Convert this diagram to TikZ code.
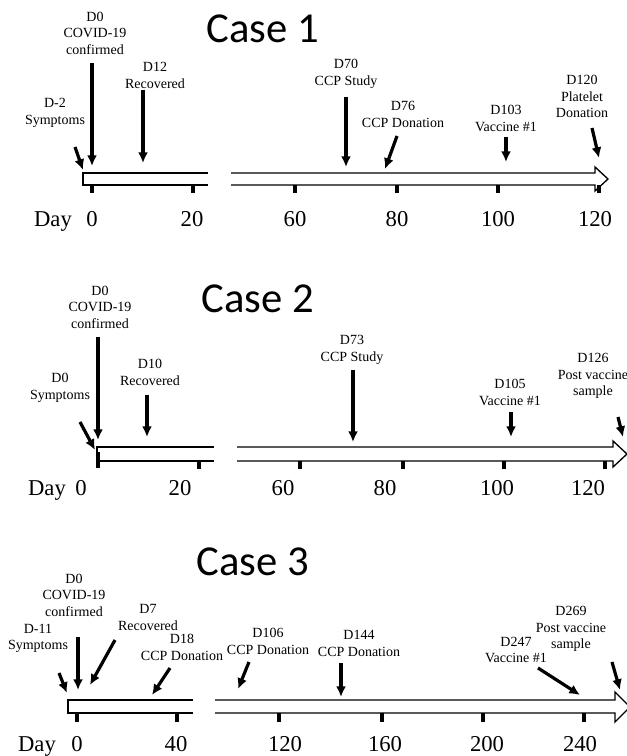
\documentclass[tikz,border=0pt]{standalone}
\usepackage{fontspec}
\setmainfont{Liberation Serif}
\newfontfamily\casefont{Carlito}
\usetikzlibrary{arrows.meta}
\tikzset{
  evtext/.style={font=\fontsize{10.5}{12.4}\selectfont, align=center, inner sep=0pt},
  daytext/.style={font=\fontsize{17}{20}\selectfont, anchor=base, inner sep=0pt},
  casetitle/.style={font=\casefont\fontsize{32}{36}\selectfont, inner sep=0pt},
  eventarrow/.style={line width=2.4pt, -{Latex[length=8pt,width=7.5pt]}},
  timeline/.style={line width=1pt},
  tickmark/.style={line width=2.6pt}
}

\begin{document}
\begin{tikzpicture}[x=0.75pt, y=-0.75pt]
  \useasboundingbox (0,0) rectangle (627,756);

  % Case 1
  \node[casetitle] (title1) at (263,29) {Case 1};
  \draw[timeline] (208,173) -- (83,173) -- (83,185) -- (208,185);
  \draw[timeline] (231,173) -- (595,173) -- (595,167) -- (608,179) -- (595,191) -- (595,185) -- (231,185);
  \draw[tickmark] (92,185) -- (92,193);
  \draw[tickmark] (193,185) -- (193,193);
  \draw[tickmark] (295,185) -- (295,193);
  \draw[tickmark] (397,185) -- (397,193);
  \draw[tickmark] (498,185) -- (498,193);
  \draw[tickmark] (599,185) -- (599,193);
  \node[daytext] (day1) at (53,226) {Day};
  \node[daytext] (day1a) at (92,226) {0};
  \node[daytext] (day1b) at (192,226) {20};
  \node[daytext] (day1c) at (295,226) {60};
  \node[daytext] (day1d) at (397,226) {80};
  \node[daytext] (day1e) at (498,226) {100};
  \node[daytext] (day1f) at (595,226) {120};

  \node[evtext] (sym1) at (55,113) {D-2\\Symptoms};
  \node[evtext] (conf1) at (95,33) {D0\\COVID-19\\confirmed};
  \node[evtext] (rec1) at (155,75.5) {D12\\Recovered};
  \node[evtext] (study1) at (346,74) {D70\\CCP Study};
  \node[evtext] (don1) at (403,114.5) {D76\\CCP Donation};
  \node[evtext] (vac1) at (506,118.5) {D103\\Vaccine \#1};
  \node[evtext] (plat1) at (582,96.5) {D120\\Platelet\\Donation};
  \coordinate (sym1-s) at (75,147);   \coordinate (sym1-e) at (83,170);
  \coordinate (conf1-s) at (92,63);   \coordinate (conf1-e) at (92,166);
  \coordinate (rec1-s) at (143,90);   \coordinate (rec1-e) at (143,163);
  \coordinate (study1-s) at (346,97); \coordinate (study1-e) at (346,167);
  \coordinate (don1-s) at (397,136);  \coordinate (don1-e) at (385,169);
  \coordinate (vac1-s) at (506,137);  \coordinate (vac1-e) at (506,162);
  \coordinate (plat1-s) at (592,128); \coordinate (plat1-e) at (599,158);
  \draw[eventarrow] (sym1-s) -- (sym1-e);
  \draw[eventarrow] (conf1-s) -- (conf1-e);
  \draw[eventarrow] (rec1-s) -- (rec1-e);
  \draw[eventarrow] (study1-s) -- (study1-e);
  \draw[eventarrow] (don1-s) -- (don1-e);
  \draw[eventarrow] (vac1-s) -- (vac1-e);
  \draw[eventarrow] (plat1-s) -- (plat1-e);

  % Case 2
  \node[casetitle] (title2) at (258,299) {Case 2};
  \draw[timeline] (214,447) -- (97,447) -- (97,461) -- (214,461);
  \draw[timeline] (237,447) -- (613,447) -- (613,441) -- (627,454) -- (613,467) -- (613,461) -- (237,461);
  \draw[tickmark] (98,452) -- (98,468);
  \draw[tickmark] (199,461) -- (199,469);
  \draw[tickmark] (300,461) -- (300,469);
  \draw[tickmark] (403,461) -- (403,469);
  \draw[tickmark] (504,461) -- (504,469);
  \draw[tickmark] (605,461) -- (605,469);
  \node[daytext] (day2) at (47,495) {Day};
  \node[daytext] (day2a) at (81,495) {0};
  \node[daytext] (day2b) at (180,495) {20};
  \node[daytext] (day2c) at (283,495) {60};
  \node[daytext] (day2d) at (385,495) {80};
  \node[daytext] (day2e) at (497,495) {100};
  \node[daytext] (day2f) at (588,495) {120};

  \node[evtext] (sym2) at (60,388) {D0\\Symptoms};
  \node[evtext] (conf2) at (100,307) {D0\\COVID-19\\confirmed};
  \node[evtext] (rec2) at (150,372.5) {D10\\Recovered};
  \node[evtext] (study2) at (352,350) {D73\\CCP Study};
  \node[evtext] (vac2) at (510,392.5) {D105\\Vaccine \#1};
  \node[evtext] (post2) at (593,376) {D126\\Post vaccine\\sample};
  \coordinate (sym2-s) at (80,422);   \coordinate (sym2-e) at (95,450);
  \coordinate (conf2-s) at (98,337);  \coordinate (conf2-e) at (98,440);
  \coordinate (rec2-s) at (147,395);  \coordinate (rec2-e) at (147,437);
  \coordinate (study2-s) at (353,370);\coordinate (study2-e) at (353,442);
  \coordinate (vac2-s) at (511,412);  \coordinate (vac2-e) at (511,437);
  \coordinate (post2-s) at (618,417); \coordinate (post2-e) at (623,437);
  \draw[eventarrow] (sym2-s) -- (sym2-e);
  \draw[eventarrow] (conf2-s) -- (conf2-e);
  \draw[eventarrow] (rec2-s) -- (rec2-e);
  \draw[eventarrow] (study2-s) -- (study2-e);
  \draw[eventarrow] (vac2-s) -- (vac2-e);
  \draw[eventarrow] (post2-s) -- (post2-e);

  % Case 3
  \node[casetitle] (title3) at (253,562) {Case 3};
  \draw[timeline] (193,700) -- (68,700) -- (68,713) -- (193,713);
  \draw[timeline] (215,700) -- (615,700) -- (615,692) -- (630,707) -- (615,722) -- (615,713) -- (215,713);
  \draw[tickmark] (77,713) -- (77,722);
  \draw[tickmark] (177,713) -- (177,722);
  \draw[tickmark] (279,713) -- (279,722);
  \draw[tickmark] (382,713) -- (382,722);
  \draw[tickmark] (483,713) -- (483,722);
  \draw[tickmark] (584,713) -- (584,722);
  \node[daytext] (day3) at (37,751) {Day};
  \node[daytext] (day3a) at (77,751) {0};
  \node[daytext] (day3b) at (176,751) {40};
  \node[daytext] (day3c) at (285,751) {120};
  \node[daytext] (day3d) at (385,751) {160};
  \node[daytext] (day3e) at (487,751) {200};
  \node[daytext] (day3f) at (580,751) {240};

  \node[evtext] (sym3) at (38,638.5) {D-11\\Symptoms};
  \node[evtext] (conf3) at (74,595) {D0\\COVID-19\\confirmed};
  \node[evtext] (rec3) at (148,617.5) {D7\\Recovered};
  \node[evtext] (don3a) at (182,647.5) {D18\\CCP Donation};
  \node[evtext] (don3b) at (268,641.5) {D106\\CCP Donation};
  \node[evtext] (don3c) at (359,643.5) {D144\\CCP Donation};
  \node[evtext] (vac3) at (516,650) {D247\\Vaccine \#1};
  \node[evtext] (post3) at (571,629) {D269\\Post vaccine\\sample};
  \coordinate (sym3-s) at (59,673);   \coordinate (sym3-e) at (67,693);
  \coordinate (conf3-s) at (78,637);  \coordinate (conf3-e) at (78,690);
  \coordinate (rec3-s) at (115,640);  \coordinate (rec3-e) at (90,685);
  \coordinate (don3a-s) at (170,668); \coordinate (don3a-e) at (152,695);
  \coordinate (don3b-s) at (249,662); \coordinate (don3b-e) at (238,689);
  \coordinate (don3c-s) at (341,663); \coordinate (don3c-e) at (341,697);
  \coordinate (vac3-s) at (538,668);  \coordinate (vac3-e) at (580,695);
  \coordinate (post3-s) at (612,662); \coordinate (post3-e) at (620,690);
  \draw[eventarrow] (sym3-s) -- (sym3-e);
  \draw[eventarrow] (conf3-s) -- (conf3-e);
  \draw[eventarrow] (rec3-s) -- (rec3-e);
  \draw[eventarrow] (don3a-s) -- (don3a-e);
  \draw[eventarrow] (don3b-s) -- (don3b-e);
  \draw[eventarrow] (don3c-s) -- (don3c-e);
  \draw[eventarrow] (vac3-s) -- (vac3-e);
  \draw[eventarrow] (post3-s) -- (post3-e);
\end{tikzpicture}
\end{document}
